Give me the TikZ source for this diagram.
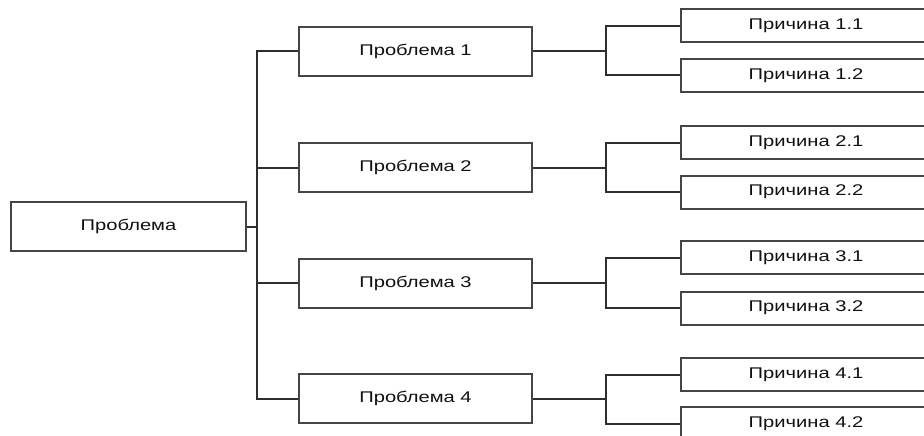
\documentclass[tikz,border=0pt]{standalone}
\usepackage{fontspec}
\setmainfont{Liberation Sans}
\definecolor{boxline}{HTML}{454545}
\definecolor{conline}{HTML}{2E2E2E}
\definecolor{txt}{HTML}{111111}
\newcommand\widetext[1]{\scalebox{1.3}[1]{#1}}
\tikzset{
  box/.style={draw=boxline, line width=2pt, fill=white, text=txt, inner sep=0pt,
    font=\fontsize{15.5}{18}\selectfont},
  mainbox/.style={box, minimum width=235pt, minimum height=49pt},
  probbox/.style={box, minimum width=233pt, minimum height=49pt},
  causebox/.style={box, minimum width=250pt, minimum height=33pt},
  con/.style={draw=conline, line width=2pt}
}
\begin{document}
\begin{tikzpicture}[x=1pt,y=-1pt]
\useasboundingbox (0,0) rectangle (924,436);
\clip (0,0) rectangle (924,436);
\fill[white] (0,0) rectangle (924,436);
% main
\node[mainbox] (m) at (128.5,226.5) {\widetext{Проблема}};
% problems
\node[probbox] (p1) at (415.5,51.5) {\widetext{Проблема 1}};
\node[probbox] (p2) at (415.5,167.5) {\widetext{Проблема 2}};
\node[probbox] (p3) at (415.5,283) {\widetext{Проблема 3}};
\node[probbox] (p4) at (415.5,398.5) {\widetext{Проблема 4}};
% causes
\node[causebox] (c11) at (806,26) {\widetext{Причина 1.1}};
\node[causebox] (c12) at (806,75.5) {\widetext{Причина 1.2}};
\node[causebox] (c21) at (806,142.5) {\widetext{Причина 2.1}};
\node[causebox] (c22) at (806,192) {\widetext{Причина 2.2}};
\node[causebox] (c31) at (806,257.5) {\widetext{Причина 3.1}};
\node[causebox] (c32) at (806,308) {\widetext{Причина 3.2}};
\node[causebox] (c41) at (806,374.5) {\widetext{Причина 4.1}};
\node[causebox] (c42) at (806,423.5) {\widetext{Причина 4.2}};
% trunk
\coordinate (tr) at (257,226.5);
\draw[con] (m.east) -- (tr);
\draw[con] (p1.west) -| (tr) |- (p4.west);
\draw[con] (p2.west) -| (tr) |- (p3.west);
% brackets
\coordinate (b1) at (606,51.5);
\coordinate (b2) at (606,167.5);
\coordinate (b3) at (606,283);
\coordinate (b4) at (606,398.5);
\draw[con] (p1.east) -- (b1);
\draw[con] (p2.east) -- (b2);
\draw[con] (p3.east) -- (b3);
\draw[con] (p4.east) -- (b4);
\draw[con] (c11.west) -| (b1) |- (c12.west);
\draw[con] (c21.west) -| (b2) |- (c22.west);
\draw[con] (c31.west) -| (b3) |- (c32.west);
\draw[con] (c41.west) -| (b4) |- (c42.west);
\end{tikzpicture}
\end{document}
